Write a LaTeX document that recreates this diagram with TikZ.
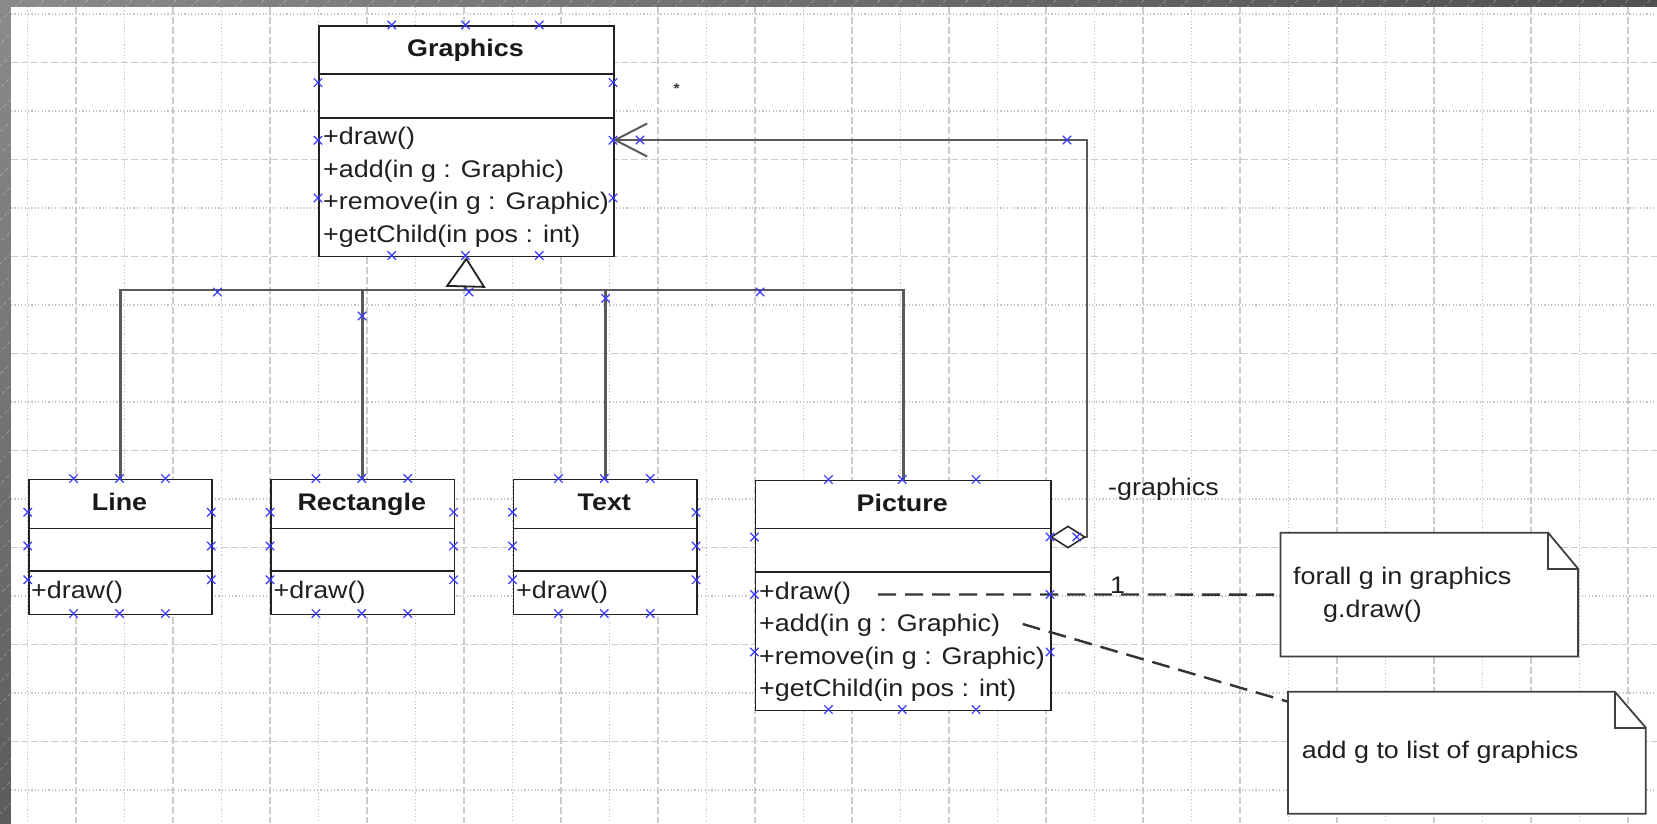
\documentclass[tikz,border=0pt]{standalone}
\usepackage{fontspec}
\setmainfont{Liberation Sans}[FakeStretch=1.12]
\usetikzlibrary{arrows.meta}
\definecolor{gridc}{HTML}{CCCCCC}
\definecolor{gridd}{HTML}{C4C4C4}
\definecolor{connc}{HTML}{5A5A5A}
\definecolor{boxc}{HTML}{222222}
\definecolor{mkc}{HTML}{3A3AFF}
\definecolor{framel}{HTML}{8A8A8A}
\definecolor{framed}{HTML}{505050}
\begin{document}
\begin{tikzpicture}[x=1pt,y=-1pt,
  clsbox/.style={draw=boxc, line width=1.8pt, fill=white, inner sep=0pt, anchor=north west},
  sepl/.style={draw=boxc, line width=1.8pt},
  ttl/.style={font=\fontsize{24}{24}\selectfont\bfseries, anchor=base, inner sep=0pt, text=black!90},
  mth/.style={font=\fontsize{24}{24}\selectfont, anchor=base west, inner sep=0pt, text=black!88},
  conn/.style={draw=connc, line width=2.9pt},
  notel/.style={draw=black!80, line width=2.4pt, dash pattern=on 18pt off 9pt},
  notebox/.style={draw=black!75, line width=1.8pt, fill=white},
  gdash/.style={draw=gridc, line width=1.7pt, dash pattern=on 7pt off 3pt},
  gdot/.style={draw=gridd, line width=1.2pt, dash pattern=on 1.2pt off 2.2pt},
  mk/.pic={\draw[mkc, line width=1.2pt] (-4.2,-4.2) -- (4.2,4.2) (-4.2,4.2) -- (4.2,-4.2);},
]
\useasboundingbox (0,0) rectangle (1657,823);
% frame
\shade[left color=framel, right color=framed] (0,0) rectangle (1657,7);
\shade[top color=framel, bottom color=framed!80!framel] (0,0) rectangle (11,823);
\begin{scope}
  \clip (0,0) rectangle (1657,7) (0,0) rectangle (11,823);
  \foreach \i in {0,22,...,2500}
    \draw[white, opacity=0.35, line width=0.5pt, dash pattern=on 4pt off 3pt] (\i,0) -- (\i-823,823);
\end{scope}
\fill[white] (11,7) rectangle (1657,823);
% grid
\foreach \k in {0,2,...,32} \draw[gdot] (27.3+48.5*\k,7) -- (27.3+48.5*\k,823);
\foreach \k in {1,3,...,33} \draw[gdash] (27.3+48.5*\k,7) -- (27.3+48.5*\k,823);
\foreach \k in {0,2,...,16} \draw[gdot] (11,14+48.5*\k) -- (1657,14+48.5*\k);
\foreach \k in {1,3,...,15} \draw[gdash] (11,14+48.5*\k) -- (1657,14+48.5*\k);

% class nodes
\node[clsbox, minimum width=295pt, minimum height=230.5pt] (G) at (318,25) {};
\node[clsbox, minimum width=183.6pt, minimum height=135pt] (L) at (27.7,478.5) {};
\node[clsbox, minimum width=183.6pt, minimum height=135pt] (R) at (270,478.5) {};
\node[clsbox, minimum width=183.6pt, minimum height=135pt] (T) at (512.5,478.5) {};
\node[clsbox, minimum width=295.5pt, minimum height=230pt] (P) at (754.5,479.5) {};

% connectors: generalization
\coordinate (gb) at (465.5,290);
\draw[conn] (L.north) |- (gb);
\draw[conn] (R.north) |- (gb);
\draw[conn] (T.north) |- (gb);
\draw[conn] (P.north) |- (gb);
\draw[conn, -{Triangle[length=30pt,width=40pt,color=boxc,fill=white,line width=1.8pt]}] (gb) -- (G.south);

% association
\coordinate (pa) at (1050,537);
\coordinate (ga) at (613,140);
\draw[conn, {Diamond[length=36pt,width=23pt,color=boxc,fill=white,line width=1.5pt]}-{Straight Barb[length=32pt,width=33pt,line width=2pt]}] (pa) -- ++(37,0) |- (ga);

% compartments
\draw[sepl] (318,74) -- (613,74);
\draw[sepl] (318,118) -- (613,118);
\foreach \l in {27.7,270,512.5} {
  \draw[sepl] (\l,528.5) -- (\l+183.6,528.5);
  \draw[sepl] (\l,571) -- (\l+183.6,571);
}
\draw[sepl] (754.5,528.5) -- (1050,528.5);
\draw[sepl] (754.5,572) -- (1050,572);

% texts
\node[ttl] (Gt) at (465.5,56.5) {Graphics};
\node[mth] (Gm1) at (323,144.5) {+draw()};
\node[mth] (Gm2) at (323,177) {+add(in g : Graphic)};
\node[mth] (Gm3) at (323,209.5) {+remove(in g : Graphic)};
\node[mth] (Gm4) at (323,242) {+getChild(in pos : int)};

\node[ttl] (Lt) at (119.5,510) {Line};
\node[mth] (Lm) at (31,598.3) {+draw()};
\node[ttl] (Rt) at (361.8,510) {Rectangle};
\node[mth] (Rm) at (273.5,598.3) {+draw()};
\node[ttl] (Tt) at (604.3,510) {Text};
\node[mth] (Tm) at (516,598.3) {+draw()};

\node[ttl] (Pt) at (902.25,511) {Picture};
\node[mth] (Pm1) at (759,599) {+draw()};
\node[mth] (Pm2) at (759,631.5) {+add(in g : Graphic)};
\node[mth] (Pm3) at (759,664) {+remove(in g : Graphic)};
\node[mth] (Pm4) at (759,696.5) {+getChild(in pos : int)};

\node[font=\fontsize{14}{14}\selectfont\bfseries, anchor=base, inner sep=0pt, text=black!80] (star) at (676.7,93.5) {*};
\node[mth] (role) at (1108,495) {-graphics};
\node[mth] (mult) at (1110,593) {1};

% notes
\node[anchor=north west, minimum width=297.2pt, minimum height=123.3pt, inner sep=0pt] (n1) at (1280.5,532.7) {};
\node[anchor=north west, minimum width=357.4pt, minimum height=121.6pt, inner sep=0pt] (n2) at (1288,691.7) {};
\coordinate (d1s) at (878,594.5);
\coordinate (d2s) at (1022.7,624);
\draw[notel] (d1s) -- (n1.west);
\draw[notel] (d2s) -- ([yshift=-10pt]n2.north west);
\foreach \n/\fx in {n1/30pt,n2/31pt} {
  \draw[notebox] (\n.north west) -- ([xshift=-\fx]\n.north east) -- ([yshift=-36pt]\n.north east) -- (\n.south east) -- (\n.south west) -- cycle;
  \draw[notebox, fill=none] ([xshift=-\fx]\n.north east) |- ([yshift=-36pt]\n.north east);
}
\node[mth] (n1a) at (1293,584) {forall g in graphics};
\node[mth] (n1b) at (1323,617.5) {g.draw()};
\node[mth] (n2a) at (1301.6,758.7) {add g to list of graphics};

% connection-point markers
\foreach \x in {391.75,465.5,539.25} {\pic at (\x,25) {mk}; \pic at (\x,255.5) {mk};}
\foreach \y in {82.6,140.25,197.9} {\pic at (318,\y) {mk}; \pic at (613,\y) {mk};}
\foreach \l in {27.7,270,512.5} {
  \foreach \dx in {45.9,91.8,137.7} {\pic at (\l+\dx,478.5) {mk}; \pic at (\l+\dx,613.5) {mk};}
  \foreach \y in {512.25,546,579.75} {\pic at (\l,\y) {mk}; \pic at (\l+183.6,\y) {mk};}
}
\foreach \x in {828.4,902.25,976.1} {\pic at (\x,479.5) {mk}; \pic at (\x,709.5) {mk};}
\foreach \y in {537,594.5,652} {\pic at (754.5,\y) {mk}; \pic at (1050,\y) {mk};}
\foreach \p in {(640,140),(1067,140),(469,292),(217.4,292),(760,292),(362,316),(605.6,298.3),(1076.7,537)} \pic at \p {mk};
\end{tikzpicture}
\end{document}
